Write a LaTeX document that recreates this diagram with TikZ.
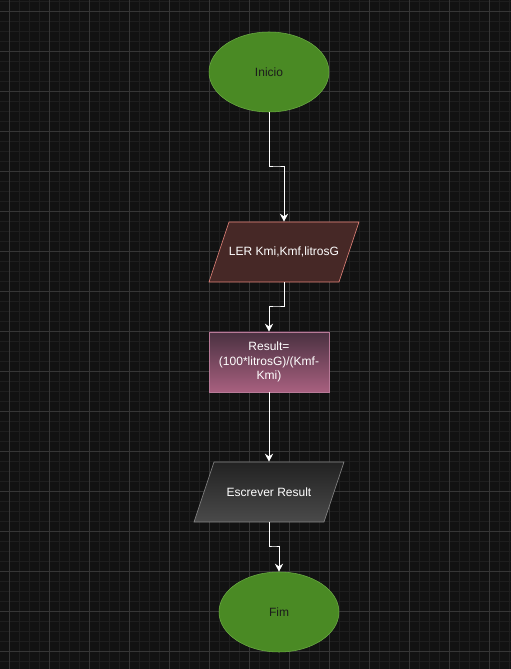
\documentclass[tikz,border=0pt]{standalone}
\usepackage{fontspec}
\setmainfont{Liberation Sans}
\usetikzlibrary{shapes.geometric,arrows.meta,calc}
\definecolor{bg}{HTML}{121212}
\definecolor{minorline}{HTML}{1E1E1E}
\definecolor{majorline}{HTML}{363636}
\definecolor{termgreen}{HTML}{4A8A24}
\definecolor{termedge}{HTML}{6CAE44}
\definecolor{termtext}{HTML}{1C1C1C}
\definecolor{lerfill}{HTML}{462826}
\definecolor{leredge}{HTML}{EE8A80}
\definecolor{restop}{HTML}{4A3141}
\definecolor{resbottom}{HTML}{A8607F}
\definecolor{resedge}{HTML}{B87A98}
\definecolor{outtop}{HTML}{222222}
\definecolor{outbottom}{HTML}{4A4A4A}
\definecolor{outedge}{HTML}{8C8C8C}
\begin{document}
\begin{tikzpicture}[x=0.75pt,y=0.75pt,
  font=\fontsize{9}{10.9}\selectfont,
  terminal/.style={ellipse, fill=termgreen, draw=termedge, minimum width=90pt, minimum height=60pt, inner sep=0pt, text=termtext},
  iotext/.style={rectangle, minimum width=97.5pt, minimum height=45pt, inner sep=0pt, text=white},
  procbox/.style={rectangle, top color=restop, bottom color=resbottom, draw=resedge, minimum width=90pt, minimum height=45pt, inner sep=0pt, text=white, align=center},
  flow/.style={draw=white, line width=0.75pt, -{Stealth[length=6pt,width=6pt]}}]
\fill[bg] (0,0) rectangle (511,669);
\useasboundingbox (0,0) rectangle (511,669);
\begin{scope}[shift={(9,17)}]
\draw[minorline, line width=0.75pt, step=10] (-9,-17) grid (502,652);
\draw[majorline, line width=0.75pt, step=40] (-9,-17) grid (502,652);
\end{scope}
\draw[fill=lerfill, draw=leredge] (209,387) -- (339,387) -- (359,447) -- (229,447) -- cycle;
\draw[top color=outtop, bottom color=outbottom, draw=outedge] (194,147) -- (324,147) -- (344,207) -- (214,207) -- cycle;
\node [terminal] (inicio) at (269,597) {Inicio};
\node [iotext] (ler) at (284,417) {LER Kmi,Kmf,litrosG};
\node [procbox] (result) at (269,307) {Result=\\(100*litrosG)/(Kmf-\\Kmi)};
\node [iotext] (escrever) at (269,177) {Escrever Result};
\node [terminal] (fim) at (279,57) {Fim};
\draw [flow] (inicio.south) |- ($(inicio.south)!0.5!(ler.north)$) -| (ler.north);
\draw [flow] (ler.south) |- ($(ler.south)!0.5!(result.north)$) -| (result.north);
\draw [flow] (result.south) -- (escrever.north);
\draw [flow] (escrever.south) |- ($(escrever.south)!0.5!(fim.north)$) -| (fim.north);
\end{tikzpicture}
\end{document}
